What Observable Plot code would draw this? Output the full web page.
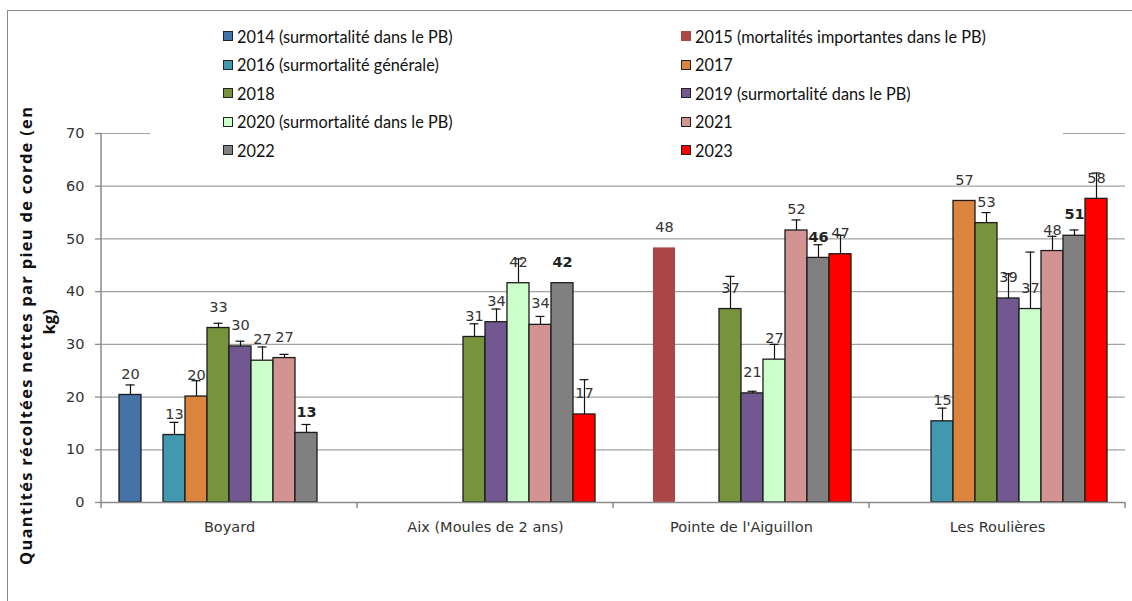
<!DOCTYPE html>
<html>
<head>
<meta charset="utf-8">
<script src="https://cdn.jsdelivr.net/npm/d3@7"></script>
<script src="https://cdn.jsdelivr.net/npm/@observablehq/plot@0.6"></script>
<style>
  body { margin: 0; background: #fff; }
  #wrap { position: relative; width: 1132px; height: 601px; overflow: hidden; background: #fff; }
  #wrap svg { position: absolute; left: 0; top: 0; }
  #frame { position: absolute; left: 7px; top: 10px; width: 1200px; height: 700px;
           border-left: 1.5px solid #8a8a8a; border-top: 1.5px solid #8a8a8a; pointer-events: none; }
  #legend { position: absolute; left: 150px; top: 16px; width: 913px; height: 150px; background: #fff; }
  .item { position: absolute; display: flex; align-items: center; height: 20px;
          font-family: Lato, "Open Sans", sans-serif; font-size: 16.3px; color: #111; white-space: nowrap; }
  .sw { width: 10px; height: 10px; margin-right: 4px; box-sizing: border-box; border: 1.5px solid #222; }
</style>
</head>
<body>
<div id="wrap"><div id="frame"></div></div>
<script>
// ---- data ----
const sites = ["Boyard", "Aix (Moules de 2 ans)", "Pointe de l'Aiguillon", "Les Roulières"];
const years = ["2014", "2015", "2016", "2017", "2018", "2019", "2020", "2021", "2022", "2023"];
const seriesLabels = [
  "2014 (surmortalité dans le PB)",
  "2015 (mortalités importantes dans le PB)",
  "2016 (surmortalité générale)",
  "2017",
  "2018",
  "2019 (surmortalité dans le PB)",
  "2020 (surmortalité dans le PB)",
  "2021",
  "2022",
  "2023"
];
// values per series, in the order of sites
const v2014 = [20.4, null, null, null];
const v2015 = [null, null, 48.3, null];
const v2016 = [12.8, null, null, 15.4];
const v2017 = [20.1, null, null, 57.2];
const v2018 = [33.1, 31.4, 36.7, 53.0];
const v2019 = [29.6, 34.2, 20.7, 38.7];
const v2020 = [26.9, 41.6, 27.1, 36.7];
const v2021 = [27.4, 33.7, 51.6, 47.7];
const v2022 = [13.2, 41.6, 46.4, 50.6];
const v2023 = [null, 16.7, 47.1, 57.6];
// upper error (positive part of error bar)
const e2014 = [1.9, null, null, null];
const e2015 = [null, null, null, null];
const e2016 = [2.4, null, null, 2.5];
const e2017 = [3.0, null, null, null];
const e2018 = [0.9, 2.5, 6.2, 2.0];
const e2019 = [1.0, 2.5, 0.4, 4.7];
const e2020 = [2.6, 4.6, 2.9, 10.8];
const e2021 = [0.7, 1.6, 2.0, 2.8];
const e2022 = [1.6, null, 2.5, 1.1];
const e2023 = [null, 6.6, 3.6, 4.9];
const yTicks = [0, 10, 20, 30, 40, 50, 60, 70];

// ---- styles ----
const colors = ["#4572A7", "#AA4643", "#4198AF", "#DB843D", "#77933C", "#71588F", "#CCFFCC", "#D39392", "#808080", "#FF0000"];

// ---- table ----
const vals = [v2014, v2015, v2016, v2017, v2018, v2019, v2020, v2021, v2022, v2023];
const errs = [e2014, e2015, e2016, e2017, e2018, e2019, e2020, e2021, e2022, e2023];
const data = years.flatMap((yr, i) => sites.map((s, j) => ({site: s, year: yr, value: vals[i][j], err: errs[i][j]})))
  .filter(d => d.value != null);
const withErr = data.filter(d => d.err != null);

const W = 1132, H = 601;
const chart = Plot.plot({
  width: W, height: H,
  marginLeft: 101, marginRight: 7, marginTop: 133, marginBottom: 99,
  style: {fontFamily: "DejaVu Sans, Verdana, sans-serif", fontSize: "14.5px", color: "#333", background: "transparent", overflow: "visible"},
  fx: {domain: sites, padding: 0, axis: null, label: null},
  x: {domain: years, paddingInner: 0, paddingOuter: 0.714, axis: null},
  y: {domain: [0, 70], axis: null},
  color: {domain: years, range: colors},
  marks: [
    Plot.gridY(yTicks, {stroke: "#a3a3a3", strokeOpacity: 1, strokeWidth: 1.2}),
    Plot.barY(data.filter(d => d.year === "2015"), {fx: "site", x: "year", y: "value", fill: "year"}),
    Plot.barY(data.filter(d => d.year !== "2015"), {fx: "site", x: "year", y: "value", fill: "year", stroke: "#1c1c1c", strokeWidth: 1.3}),
    Plot.ruleX(withErr, {fx: "site", x: "year", y1: "value", y2: d => d.value + d.err, stroke: "#111", strokeWidth: 1.2}),
    Plot.tickY(withErr, {fx: "site", x: "year", y: d => d.value + d.err, stroke: "#111", strokeWidth: 1.2, insetLeft: 6.5, insetRight: 6.5}),
    Plot.ruleY([0], {stroke: "#8a8a8a", strokeWidth: 1.5}),
    Plot.text(data.filter(d => d.year !== "2022"), {fx: "site", x: "year", y: "value", text: d => String(Math.round(d.value)), dy: -21, fill: "#333", fontSize: 14.5}),
    Plot.text(data.filter(d => d.year === "2022"), {fx: "site", x: "year", y: "value", text: d => String(Math.round(d.value)), dy: -21, fill: "#222", fontSize: 14.5, fontWeight: "bold"}),
    Plot.axisY(yTicks, {anchor: "left", tickSize: 6, tickPadding: 11, stroke: "#8a8a8a", fill: "#333", label: null, strokeWidth: 1.3}),
    Plot.axisFx({anchor: "bottom", tickSize: 0, tickPadding: 19, label: null, fill: "#333"})
  ]
});

const wrap = document.getElementById("wrap");
wrap.insertBefore(chart, wrap.firstChild);

// structural lines from the library's scales
const svg = d3.select(chart);
const fx = chart.scale("fx"), y = chart.scale("y");
const y0 = y.apply(0), yTop = y.apply(70);
const x0 = fx.apply(sites[0]);
svg.append("line").attr("x1", x0).attr("x2", x0).attr("y1", yTop).attr("y2", y0 + 6)
  .attr("stroke", "#8a8a8a").attr("stroke-width", 1.5);
sites.forEach((s, i) => {
  const xe = fx.apply(s) + fx.bandwidth;
  svg.append("line").attr("x1", xe).attr("x2", xe).attr("y1", y0).attr("y2", y0 + 6)
    .attr("stroke", "#8a8a8a").attr("stroke-width", 1.5);
});

// y-axis title (two lines, rotated)
const titleLines = ["Quantités récoltées nettes par pieu de corde (en", "kg)"];
titleLines.forEach((t, i) => {
  const el = svg.append("text")
    .attr("transform", `translate(${25 + i * 23},${i === 0 ? 336 : 322}) rotate(-90)`)
    .attr("text-anchor", "middle").attr("dominant-baseline", "central")
    .attr("font-family", "'Open Sans', Lato, sans-serif").attr("font-weight", "bold")
    .attr("font-size", 16.5).attr("fill", "#111").text(t);
  if (i === 0) el.attr("textLength", 458).attr("lengthAdjust", "spacing");
});

// legend
const legend = document.createElement("div");
legend.id = "legend";
wrap.appendChild(legend);
seriesLabels.forEach((lab, i) => {
  const col = i % 2, row = Math.floor(i / 2);
  const item = document.createElement("div");
  item.className = "item";
  item.style.left = (col === 0 ? 223 : 681) - 150 + "px";
  item.style.top = (36 + row * 28.5) - 16 - 10 + "px";
  const sw = document.createElement("span");
  sw.className = "sw";
  sw.style.background = colors[i];
  if (years[i] === "2015") sw.style.border = "none";
  const tx = document.createElement("span");
  tx.textContent = lab;
  item.appendChild(sw); item.appendChild(tx);
  legend.appendChild(item);
});
</script>
</body>
</html>
